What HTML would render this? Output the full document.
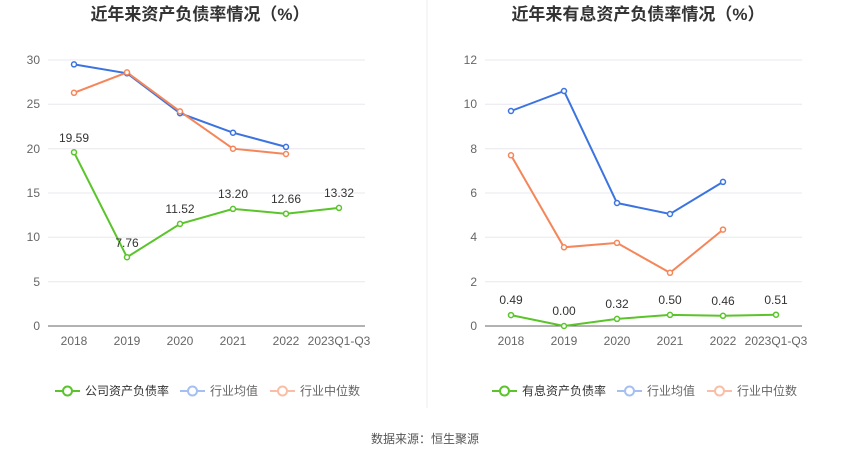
<!DOCTYPE html>
<html><head><meta charset="utf-8"><style>
body{margin:0;background:#fff;}
svg{display:block;font-family:"Liberation Sans","Noto Sans CJK SC",sans-serif;}
</style></head><body>
<svg width="850" height="459" xmlns="http://www.w3.org/2000/svg">
<rect width="850" height="459" fill="#fff"/>
<line x1="427" y1="0" x2="427" y2="408" stroke="#eee"/>
<text x="200" y="20" text-anchor="middle" font-size="17" font-weight="bold" fill="#333">近年来资产负债率情况（%）</text>
<text x="638" y="20" text-anchor="middle" font-size="17" font-weight="bold" fill="#333">近年来有息资产负债率情况（%）</text>
<g stroke="#e8e8ee" stroke-width="1">
<line x1="48" x2="365" y1="60" y2="60"/><line x1="48" x2="365" y1="104.3" y2="104.3"/><line x1="48" x2="365" y1="148.7" y2="148.7"/><line x1="48" x2="365" y1="193" y2="193"/><line x1="48" x2="365" y1="237.3" y2="237.3"/><line x1="48" x2="365" y1="281.7" y2="281.7"/>
<line x1="485" x2="802" y1="60" y2="60"/><line x1="485" x2="802" y1="104.3" y2="104.3"/><line x1="485" x2="802" y1="148.7" y2="148.7"/><line x1="485" x2="802" y1="193" y2="193"/><line x1="485" x2="802" y1="237.3" y2="237.3"/><line x1="485" x2="802" y1="281.7" y2="281.7"/>
</g>
<line x1="48" x2="365" y1="326" y2="326" stroke="#666"/>
<line x1="485" x2="802" y1="326" y2="326" stroke="#666"/>
<g font-size="12" fill="#666" text-anchor="end">
<text x="40" y="64">30</text><text x="40" y="108">25</text><text x="40" y="153">20</text><text x="40" y="197">15</text><text x="40" y="241">10</text><text x="40" y="286">5</text><text x="40" y="330">0</text>
<text x="477" y="64">12</text><text x="477" y="108">10</text><text x="477" y="153">8</text><text x="477" y="197">6</text><text x="477" y="241">4</text><text x="477" y="286">2</text><text x="477" y="330">0</text>
</g>
<g font-size="12" fill="#666" text-anchor="middle">
<text x="74" y="345">2018</text><text x="127" y="345">2019</text><text x="180" y="345">2020</text><text x="233" y="345">2021</text><text x="286" y="345">2022</text><text x="339" y="345">2023Q1-Q3</text>
<text x="511" y="345">2018</text><text x="564" y="345">2019</text><text x="617" y="345">2020</text><text x="670" y="345">2021</text><text x="723" y="345">2022</text><text x="776" y="345">2023Q1-Q3</text>
</g>
<g fill="#fff" stroke-width="2">
<polyline fill="none" stroke="#3b73e0" points="74,64.4 127,73.3 180,113.2 233,132.7 286,146.9"/>
<polyline fill="none" stroke="#f5865a" points="74,92.8 127,72.4 180,111.4 233,148.7 286,154"/>
<polyline fill="none" stroke="#5ac42a" points="74,152.3 127,257.2 180,223.9 233,208.9 286,213.7 339,207.9"/>
<polyline fill="none" stroke="#3b73e0" points="511,111 564,91 617,203 670,214 723,181.9"/>
<polyline fill="none" stroke="#f5865a" points="511,155.3 564,247.3 617,242.9 670,272.8 723,229.6"/>
<polyline fill="none" stroke="#5ac42a" points="511,315.1 564,326 617,318.9 670,314.9 723,315.8 776,314.7"/>
<g stroke="#3b73e0" stroke-width="1.5"><circle cx="74" cy="64.4" r="2.5"/><circle cx="127" cy="73.3" r="2.5"/><circle cx="180" cy="113.2" r="2.5"/><circle cx="233" cy="132.7" r="2.5"/><circle cx="286" cy="146.9" r="2.5"/>
<circle cx="511" cy="111" r="2.5"/><circle cx="564" cy="91" r="2.5"/><circle cx="617" cy="203" r="2.5"/><circle cx="670" cy="214" r="2.5"/><circle cx="723" cy="181.9" r="2.5"/></g>
<g stroke="#f5865a" stroke-width="1.5"><circle cx="74" cy="92.8" r="2.5"/><circle cx="127" cy="72.4" r="2.5"/><circle cx="180" cy="111.4" r="2.5"/><circle cx="233" cy="148.7" r="2.5"/><circle cx="286" cy="154" r="2.5"/>
<circle cx="511" cy="155.3" r="2.5"/><circle cx="564" cy="247.3" r="2.5"/><circle cx="617" cy="242.9" r="2.5"/><circle cx="670" cy="272.8" r="2.5"/><circle cx="723" cy="229.6" r="2.5"/></g>
<g stroke="#5ac42a" stroke-width="1.5"><circle cx="74" cy="152.3" r="2.5"/><circle cx="127" cy="257.2" r="2.5"/><circle cx="180" cy="223.9" r="2.5"/><circle cx="233" cy="208.9" r="2.5"/><circle cx="286" cy="213.7" r="2.5"/><circle cx="339" cy="207.9" r="2.5"/>
<circle cx="511" cy="315.1" r="2.5"/><circle cx="564" cy="326" r="2.5"/><circle cx="617" cy="318.9" r="2.5"/><circle cx="670" cy="314.9" r="2.5"/><circle cx="723" cy="315.8" r="2.5"/><circle cx="776" cy="314.7" r="2.5"/></g>
</g>
<g font-size="12" fill="#333" text-anchor="middle">
<text x="74" y="142">19.59</text><text x="127" y="247">7.76</text><text x="180" y="213">11.52</text><text x="233" y="198">13.20</text><text x="286" y="203">12.66</text><text x="339" y="197">13.32</text>
<text x="511" y="304">0.49</text><text x="564" y="315">0.00</text><text x="617" y="308">0.32</text><text x="670" y="304">0.50</text><text x="723" y="305">0.46</text><text x="776" y="304">0.51</text>
</g>
<g font-size="12" fill="#333">
<line x1="55" x2="80" y1="391" y2="391" stroke="#5ac42a" stroke-width="2"/><circle cx="67.5" cy="391" r="4.5" fill="#fff" stroke="#5ac42a" stroke-width="2"/><text x="85" y="395">公司资产负债率</text>
<line x1="180" x2="205" y1="391" y2="391" stroke="#a6bff2" stroke-width="2"/><circle cx="192.5" cy="391" r="4.5" fill="#fff" stroke="#a6bff2" stroke-width="2"/><text x="210" y="395" fill="#666">行业均值</text>
<line x1="270" x2="295" y1="391" y2="391" stroke="#f9bea5" stroke-width="2"/><circle cx="282.5" cy="391" r="4.5" fill="#fff" stroke="#f9bea5" stroke-width="2"/><text x="300" y="395" fill="#666">行业中位数</text>
<line x1="492" x2="517" y1="391" y2="391" stroke="#5ac42a" stroke-width="2"/><circle cx="504.5" cy="391" r="4.5" fill="#fff" stroke="#5ac42a" stroke-width="2"/><text x="522" y="395">有息资产负债率</text>
<line x1="617" x2="642" y1="391" y2="391" stroke="#a6bff2" stroke-width="2"/><circle cx="629.5" cy="391" r="4.5" fill="#fff" stroke="#a6bff2" stroke-width="2"/><text x="647" y="395" fill="#666">行业均值</text>
<line x1="707" x2="732" y1="391" y2="391" stroke="#f9bea5" stroke-width="2"/><circle cx="719.5" cy="391" r="4.5" fill="#fff" stroke="#f9bea5" stroke-width="2"/><text x="737" y="395" fill="#666">行业中位数</text>
</g>
<text x="425" y="443" text-anchor="middle" font-size="12" fill="#555">数据来源：恒生聚源</text>
</svg>
</body></html>
